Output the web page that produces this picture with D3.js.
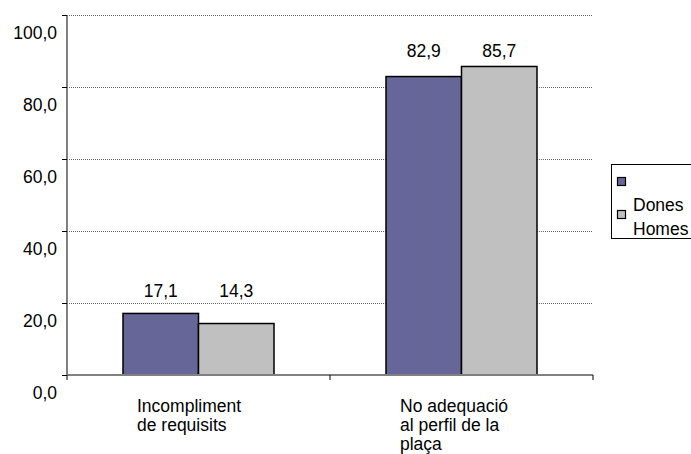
<!DOCTYPE html>
<html><head><meta charset="utf-8">
<script src="https://cdn.jsdelivr.net/npm/d3@7"></script>
<style>body{margin:0;background:#fff;overflow:hidden}svg{display:block}text{font-family:"Liberation Sans",Arial,sans-serif;fill:#000}</style>
</head><body><svg id="c" width="691" height="454"></svg>
<script>
const categories = [["Incompliment","de requisits"],["No adequació","al perfil de la","plaça"]];
const seriesNames = ["Dones","Homes"];
const dones = [17.1, 82.9];
const homes = [14.3, 85.7];
const yTicks = [0,20,40,60,80,100];
const colors = ["#666699","#C0C0C0"];

const svg = d3.select("#c");
const L=67, R=593, T=15, B=375;
const fs = 17.5;
const y = d3.scaleLinear().domain([0,100]).range([B,T]);
const x0 = d3.scaleBand().domain(d3.range(categories.length)).range([L,R]).paddingInner(0).paddingOuter(0);
const groupW = 151;
const x1 = d3.scaleBand().domain(d3.range(seriesNames.length)).range([0,groupW]);
const fmt = v => d3.format(".1f")(v).replace(".",",");

// gridlines
svg.append("g").selectAll("line").data(yTicks.filter(d=>d>0)).join("line")
  .attr("x1",L).attr("x2",R).attr("y1",d=>Math.round(y(d))+0.5).attr("y2",d=>Math.round(y(d))+0.5)
  .attr("stroke","#666").attr("stroke-width",1).attr("stroke-dasharray","1,1");

// y axis
const ya = d3.axisLeft(y).tickValues(yTicks).tickSize(5).tickFormat(fmt);
const yg = svg.append("g").attr("transform",`translate(${L},0)`).call(ya);
yg.select(".domain").attr("stroke","#808080").attr("stroke-width",2).attr("d",`M0,${T}V${B}`);
yg.selectAll(".tick line").attr("stroke","#000");
yg.selectAll(".tick text").attr("x",-10).attr("dy",0).attr("y",23).attr("font-size",fs).attr("font-family","Liberation Sans, Arial").attr("fill","#000");

// bars
const data = categories.map((c,i)=>[dones[i],homes[i]]);
const g = svg.append("g").selectAll("g").data(data).join("g")
  .attr("transform",(d,i)=>`translate(${x0(i)+x0.bandwidth()/2-groupW/2},0)`);
g.selectAll("rect").data(d=>d).join("rect")
  .attr("x",(d,j)=>x1(j)).attr("width",x1.bandwidth())
  .attr("y",d=>y(d)).attr("height",d=>y(0)-y(d))
  .attr("fill",(d,j)=>colors[j]).attr("stroke","#000").attr("stroke-width",1.5);

// x axis
svg.append("line").attr("x1",L).attr("x2",R).attr("y1",B).attr("y2",B).attr("stroke","#808080").attr("stroke-width",2);
svg.append("g").selectAll("line").data(d3.range(categories.length+1)).join("line")
  .attr("x1",i=>i<categories.length?x0(i):R).attr("x2",i=>i<categories.length?x0(i):R)
  .attr("y1",B).attr("y2",B+5).attr("stroke","#000");

// value labels
const labelOffsets=[16,9.5];
g.each(function(d,i){
  const gy = y(d3.max(d)) - labelOffsets[i];
  d3.select(this).selectAll("text.v").data(d).join("text").attr("class","v")
    .attr("x",(v,j)=>x1(j)+x1.bandwidth()/2).attr("y",gy)
    .attr("text-anchor","middle").attr("font-size",fs).text(fmt);
});

// category labels
categories.forEach((lines,i)=>{
  const t = svg.append("text").attr("x",x0(i)+x0.bandwidth()/2-61.5).attr("y",412).attr("font-size",fs);
  lines.forEach((ln,k)=>t.append("tspan").attr("x",x0(i)+x0.bandwidth()/2-61.5).attr("dy",k?19:0).text(ln));
});

// legend
const lg = svg.append("g");
lg.append("rect").attr("x",611.5).attr("y",164.5).attr("width",100).attr("height",74).attr("fill","#fff").attr("stroke","#000");
seriesNames.forEach((n,j)=>{
  lg.append("rect").attr("x",617.5).attr("y",177.5+j*33).attr("width",8).attr("height",8).attr("fill",colors[j]).attr("stroke","#000").attr("stroke-width",1.2);
  lg.append("text").attr("x",633).attr("y",211+j*24).attr("font-size",fs).text(n);
});
</script></body></html>
